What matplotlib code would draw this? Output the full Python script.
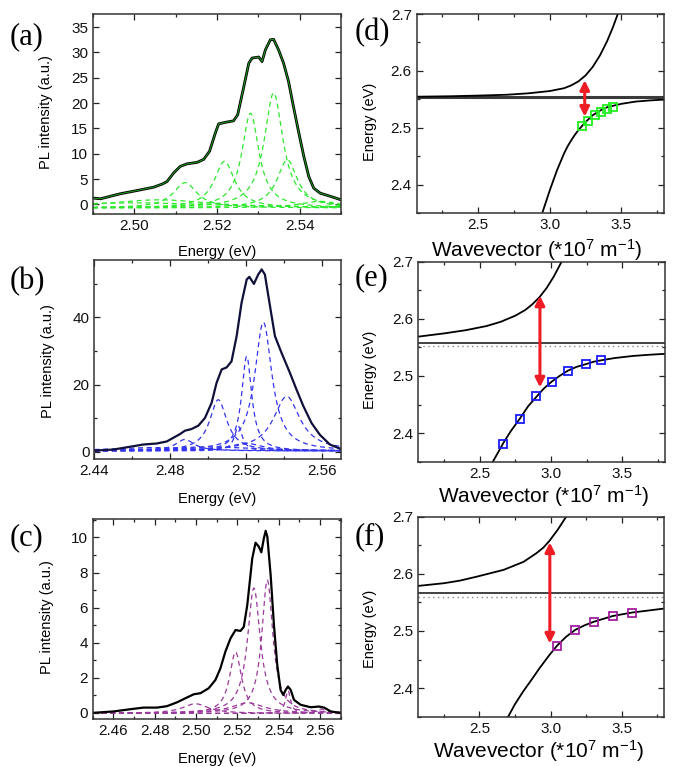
import numpy as np
import matplotlib.pyplot as plt
from matplotlib.ticker import AutoMinorLocator, MultipleLocator, FormatStrFormatter

plt.rcParams['font.family'] = ['Liberation Sans', 'DejaVu Sans']
plt.rcParams['mathtext.fontset'] = 'custom'
plt.rcParams['mathtext.rm'] = 'Liberation Sans'
plt.rcParams['mathtext.it'] = 'Liberation Sans:italic'

# ---------------- PL spectra (left column) ----------------
a_E = [2.490, 2.4918, 2.4942, 2.4966, 2.4998, 2.5023, 2.5047, 2.5067, 2.5079, 2.5095,
       2.5111, 2.5127, 2.5152, 2.5168, 2.5182, 2.5196, 2.5204, 2.522, 2.524, 2.5250,
       2.5265, 2.5277, 2.5285, 2.5301, 2.5309, 2.5317, 2.5329, 2.5337, 2.5349, 2.5361,
       2.5373, 2.5385, 2.5398, 2.5410, 2.5422, 2.5434, 2.5450, 2.5474, 2.550]
a_I = [1.25, 1.1, 1.6, 2.1, 2.6, 3.0, 3.4, 4.0, 4.5, 6.2,
       7.5, 8.0, 8.3, 8.9, 10.5, 14.1, 15.9, 16.2, 16.5, 17.7,
       23.3, 27.9, 28.9, 29.1, 28.2, 30.5, 32.5, 32.6, 30.5, 27.9,
       24.3, 19.3, 14.1, 9.5, 5.5, 3.2, 2.2, 1.6, 0.9]
# (a) fit components: centre, height, FWHM
a_cen = [2.5000, 2.5060, 2.5123, 2.5218, 2.5281, 2.5337, 2.5370, 2.5450]
a_hgt = [1.0, 1.6, 5.0, 9.2, 18.7, 22.7, 9.5, 1.3]
a_fwhm = [0.050, 0.030, 0.007, 0.006, 0.005, 0.0055, 0.006, 0.012]
a_base = -0.7

# (b)
b_E = [2.440, 2.450, 2.4606, 2.4658, 2.4729, 2.4782, 2.4817, 2.4852, 2.4878, 2.4913,
       2.4949, 2.4984, 2.5019, 2.5045, 2.5072, 2.5098, 2.5124, 2.5151, 2.5177, 2.5204,
       2.5218, 2.5242, 2.5265, 2.5283, 2.5300, 2.5327, 2.5353, 2.5388, 2.5432, 2.5467,
       2.5503, 2.5546, 2.5590, 2.5643, 2.570]
b_I = [0.4, 0.7, 1.7, 2.2, 2.5, 3.1, 4.2, 5.3, 6.3, 6.8,
       7.8, 10.1, 14.6, 20.5, 24.5, 25.1, 26.9, 34.4, 44.3, 51.2,
       52.0, 49.9, 52.7, 54.2, 52.7, 43.3, 34.4, 29.4, 23.5, 18.5,
       13.6, 8.6, 5.1, 2.2, 0.9]
b_cen = [2.4700, 2.4878, 2.5000, 2.5054, 2.5160, 2.5200, 2.5204, 2.5292, 2.5415]
b_hgt = [1.0, 3.4, 1.2, 15.2, 7.3, 2.3, 28.1, 38.2, 16.2]
b_fwhm = [0.050, 0.012, 0.060, 0.011, 0.005, 0.020, 0.0065, 0.011, 0.017]
b_base = 0.3

# (c)
c_E = [2.450, 2.460, 2.4697, 2.4746, 2.4811, 2.4859, 2.4908, 2.4948, 2.4989, 2.5021,
       2.5061, 2.5094, 2.5118, 2.5142, 2.5167, 2.5191, 2.5215, 2.5231, 2.5248, 2.5272,
       2.5288, 2.5304, 2.5316, 2.5328, 2.5337, 2.5345, 2.5361, 2.5377, 2.5393, 2.5409,
       2.5422, 2.5434, 2.5445, 2.5458, 2.5474, 2.5506, 2.5555, 2.5595, 2.5620, 2.5652, 2.570]
c_I = [0.0, 0.08, 0.23, 0.3, 0.3, 0.38, 0.6, 0.83, 1.06, 1.12,
       1.4, 1.88, 2.54, 3.49, 4.25, 4.72, 4.67, 4.9, 6.15, 8.8,
       9.7, 9.47, 9.15, 9.94, 10.38, 10.04, 7.86, 5.0, 2.73, 1.31,
       1.02, 1.31, 1.5, 1.31, 0.74, 0.46, 0.32, 0.36, 0.3, 0.08, 0.0]
c_cen = [2.4997, 2.5191, 2.5250, 2.5280, 2.5345, 2.5445, 2.5605]
c_hgt = [0.55, 3.5, 0.6, 7.15, 7.6, 1.3, 0.25]
c_fwhm = [0.015, 0.007, 0.020, 0.0075, 0.0065, 0.003, 0.006]
c_base = -0.03

# ---------------- dispersion (right column) ----------------
d_up_k = [2.07, 2.3, 2.5, 2.7, 2.85, 3.0, 3.1, 3.15, 3.2, 3.25, 3.3, 3.35, 3.4, 3.44, 3.475]
d_up_E = [2.5545, 2.5553, 2.5565, 2.558, 2.5605, 2.5645, 2.5695, 2.5745, 2.5815, 2.5920,
          2.6070, 2.6270, 2.6520, 2.6760, 2.700]
d_lo_k = [2.95, 3.0, 3.05, 3.1, 3.125, 3.15, 3.175, 3.2, 3.25, 3.3, 3.35, 3.4, 3.5, 3.6,
          3.7, 3.8]
d_lo_E = [2.352, 2.390, 2.425, 2.455, 2.4675, 2.478, 2.4875, 2.496, 2.510, 2.522, 2.530,
          2.536, 2.542, 2.546, 2.548, 2.5495]
d_pts_k = [3.226, 3.267, 3.319, 3.36, 3.40, 3.442]
d_pts_E = [2.503, 2.512, 2.522, 2.528, 2.533, 2.537]
d_exc = 2.554
d_arrow = (3.244, 2.5835, 2.5195)

e_up_k = [2.074, 2.25, 2.4, 2.55, 2.65, 2.75, 2.82, 2.87, 2.92, 2.97, 3.02, 3.075]
e_up_E = [2.569, 2.5745, 2.580, 2.5875, 2.595, 2.6055, 2.6155, 2.6255, 2.638, 2.654,
          2.674, 2.700]
e_lo_k = [2.593, 2.667, 2.72, 2.784, 2.84, 2.9, 2.95, 3.005, 3.06, 3.121, 3.18,
          3.249, 3.3, 3.365, 3.45, 3.574, 3.68, 3.795]
e_lo_E = [2.35, 2.383, 2.404, 2.426, 2.447, 2.464, 2.478, 2.490, 2.500, 2.5096, 2.516,
          2.521, 2.525, 2.528, 2.5315, 2.535, 2.537, 2.5387]
e_pts_k = [2.667, 2.784, 2.895, 3.005, 3.121, 3.244, 3.353]
e_pts_E = [2.381, 2.425, 2.465, 2.489, 2.509, 2.521, 2.528]
e_exc = 2.557
e_dot = 2.553
e_arrow = (2.923, 2.6406, 2.480)

f_up_k = [2.074, 2.25, 2.36, 2.48, 2.67, 2.81, 2.90, 2.95, 2.99, 3.05, 3.11]
f_up_E = [2.579, 2.5836, 2.588, 2.595, 2.607, 2.621, 2.636, 2.646, 2.657, 2.677, 2.700]
f_lo_k = [2.702, 2.75, 2.807, 2.87, 2.923, 2.993, 3.047, 3.11, 3.174, 3.24, 3.309,
          3.44, 3.574, 3.79]
f_lo_E = [2.35, 2.372, 2.394, 2.416, 2.435, 2.4583, 2.4746, 2.490, 2.502, 2.510,
          2.5166, 2.5264, 2.5323, 2.539]
f_pts_k = [3.047, 3.174, 3.309, 3.44, 3.574]
f_pts_E = [2.4746, 2.502, 2.5166, 2.5264, 2.5323]
f_exc = 2.567
f_dot = 2.559
f_arrow = (2.995, 2.655, 2.478)


def lorentz(x, c, h, w):
    return h / (1 + ((x - c) / (w / 2)) ** 2)


def style(ax, xmaj, ymaj, yminor=True):
    ax.xaxis.set_major_locator(MultipleLocator(xmaj))
    ax.yaxis.set_major_locator(MultipleLocator(ymaj))
    ax.xaxis.set_minor_locator(AutoMinorLocator(2))
    if yminor:
        ax.yaxis.set_minor_locator(AutoMinorLocator(2))
    ax.tick_params(which='both', direction='in', top=True, right=True,
                   labelsize=11, width=0.9, colors='#222222', labelcolor='#111111')
    ax.tick_params(which='major', length=4)
    ax.tick_params(which='minor', length=2.3)
    for s in ax.spines.values():
        s.set_linewidth(1.1)
        s.set_color('#333333')


W, H = 674.0, 767.0


def box(l, r, t, b):
    return [l / W, 1 - b / H, (r - l) / W, (b - t) / H]


fig = plt.figure(figsize=(6.74, 7.67), dpi=100)

# ---- spectra ----
spectra = [
    ('(a)', box(93, 341, 14, 214), (2.49, 2.55), (-1.9, 37.6), 0.02, 5, False, '%.2f',
     a_E, a_I, a_cen, a_hgt, a_fwhm, a_base, '#2ee82e', 'black', (-0.16, 0.51), -0.155, 37),
    ('(b)', box(94.3, 340.7, 260, 459), (2.44, 2.57), (-2.1, 57.0), 0.04, 20, True, '%.2f',
     b_E, b_I, b_cen, b_hgt, b_fwhm, b_base, '#3434f0', '#10103a', (-0.16, 0.49), -0.164, 282),
    ('(c)', box(92.7, 340.7, 519, 719), (2.45, 2.57), (-0.35, 11.05), 0.02, 2, True, '%.2f',
     c_E, c_I, c_cen, c_hgt, c_fwhm, c_base, '#9a3a9a', 'black', (-0.155, 0.51), -0.163, 538),
]
for (lab, rect, xl, yl, xmaj, ymaj, ymin, fmt, E, I, cen, hgt, fw, base, dcol, scol,
     ylc, xly, laby) in spectra:
    ax = fig.add_axes(rect)
    xs = np.linspace(xl[0], xl[1], 400)
    for c, h, w in zip(cen, hgt, fw):
        ax.plot(xs, base + lorentz(xs, c, h, w), color=dcol, lw=0.9, ls=(0, (4, 3)))
    if lab == '(a)':
        ax.plot(E, I, color='black', lw=2.0)
        ax.plot(E, I, color='#1fa01f', lw=0.7)
    else:
        ax.plot(E, I, color=scol, lw=1.6)
    ax.set_xlim(*xl)
    ax.set_ylim(*yl)
    style(ax, xmaj, ymaj, ymin)
    ax.xaxis.set_major_formatter(FormatStrFormatter(fmt))
    ax.set_ylabel('PL intensity (a.u.)', fontsize=10.5)
    ax.set_xlabel('Energy (eV)', fontsize=10.5)
    ax.yaxis.set_label_coords(*ylc)
    ax.xaxis.set_label_coords(0.5, xly)
    fig.text(10 / W, 1 - laby / H, lab, family='Liberation Serif', fontsize=22,
             ha='left', va='center')

# ---- dispersion ----
disp = [
    ('(d)', box(416.7, 664.3, 14, 213), d_up_k, d_up_E, d_lo_k, d_lo_E, d_pts_k, d_pts_E,
     '#22ee22', d_exc, None, d_arrow, (-0.162, 0.46), -0.119, 0.485, 33),
    ('(e)', box(418.3, 665, 261.7, 461.7), e_up_k, e_up_E, e_lo_k, e_lo_E, e_pts_k, e_pts_E,
     '#1a1aff', e_exc, e_dot, e_arrow, (-0.169, 0.46), -0.108, 0.507, 278),
    ('(f)', box(418.3, 664.3, 516.7, 716.7), f_up_k, f_up_E, f_lo_k, f_lo_E, f_pts_k, f_pts_E,
     '#a020a0', f_exc, f_dot, f_arrow, (-0.169, 0.44), -0.108, 0.49, 537),
]
for (lab, rect, uk, uE, lk, lE, pk, pE, mcol, exc, dot, arr, ylc, xly, xlx, laby) in disp:
    ax = fig.add_axes(rect)
    if dot is None:
        ax.axhline(exc, color='#3a3a3a', lw=2.2)
    else:
        ax.axhline(dot, color='#888888', lw=1.0, ls=(0, (1, 2.5)))
        ax.axhline(exc, color='#222222', lw=1.2)
    ax.plot(uk, uE, color='black', lw=1.3)
    ax.plot(lk, lE, color='black', lw=1.3)
    ax.plot(pk, pE, ls='none', marker='s', ms=5.5, mfc='none', mec=mcol, mew=1.3)
    ax.annotate('', xy=(arr[0], arr[1]), xytext=(arr[0], arr[2]),
                arrowprops=dict(arrowstyle='<|-|>', color='#ee1c25', lw=2.2,
                                mutation_scale=14, shrinkA=0, shrinkB=0))
    ax.set_xlim(2.07, 3.8)
    ax.set_ylim(2.35, 2.70)
    style(ax, 0.5, 0.1)
    ax.xaxis.set_major_formatter(FormatStrFormatter('%.1f'))
    ax.yaxis.set_major_formatter(FormatStrFormatter('%.1f'))
    ax.set_ylabel('Energy (eV)', fontsize=10.5)
    ax.set_xlabel(r'Wavevector (*10$^{7}$ m$^{-1}$)', fontsize=15)
    ax.yaxis.set_label_coords(*ylc)
    ax.xaxis.set_label_coords(xlx, xly)
    fig.text(355 / W, 1 - laby / H, lab, family='Liberation Serif', fontsize=22,
             ha='left', va='center')

fig.savefig('out.png', dpi=100)
